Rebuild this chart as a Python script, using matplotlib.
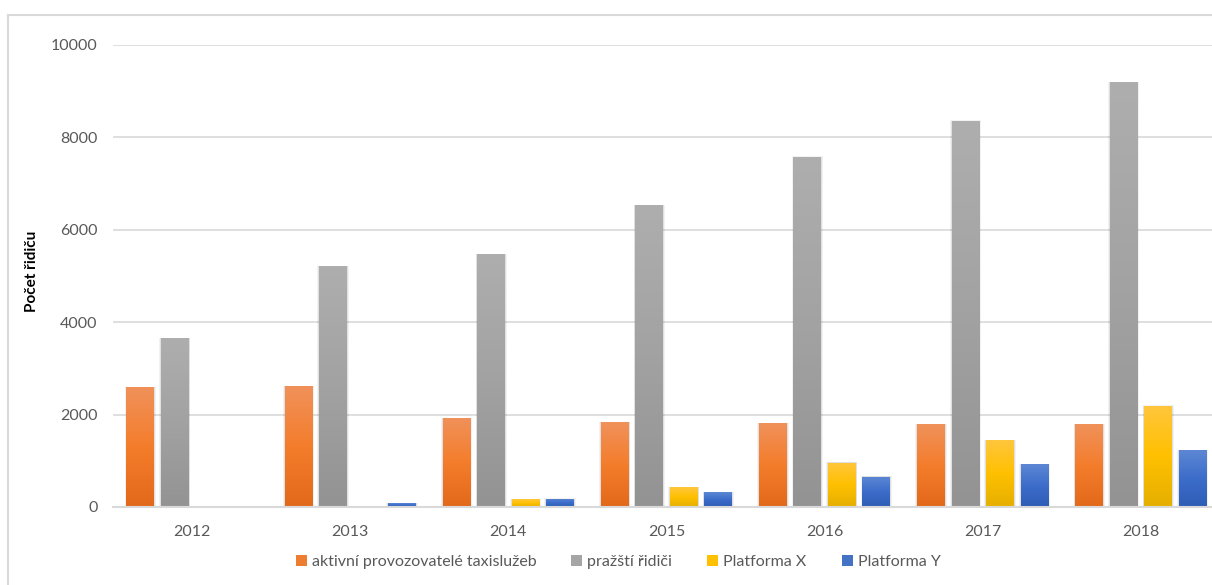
import numpy as np
import matplotlib
matplotlib.use("Agg")
import matplotlib.pyplot as plt
from matplotlib.patches import Rectangle, Patch
from matplotlib.colors import to_rgb
from matplotlib.lines import Line2D

years = ["2012", "2013", "2014", "2015", "2016", "2017", "2018"]
aktivni = [2600, 2620, 1930, 1830, 1820, 1790, 1790]
prazsti = [3660, 5220, 5480, 6540, 7580, 8360, 9200]
platforma_x = [0, 0, 170, 430, 960, 1450, 2190]
platforma_y = [0, 80, 180, 320, 660, 920, 1230]

series_names = ["aktivní provozovatelé taxislužeb", "pražští řidiči", "Platforma X", "Platforma Y"]
series_values = [aktivni, prazsti, platforma_x, platforma_y]
legend_colors = ["#ED7D31", "#A5A5A5", "#FFC000", "#4472C4"]
gradients = [
    ["#F0915A", "#F47D2C", "#E2691A"],
    ["#AEAEAE", "#A2A2A2", "#939393"],
    ["#FFC63D", "#FFC000", "#E5AF00"],
    ["#5D87D4", "#3C6DCA", "#2E5DB5"],
]

plt.rcParams["font.family"] = ["Lato", "DejaVu Sans"]

fig = plt.figure(figsize=(12.12, 5.85), dpi=100)
fig.patch.set_facecolor("white")
ax = fig.add_axes([113 / 1212, 1 - 507 / 585, 1107 / 1212, (507 - 45) / 585])

def gradient_image(stops, n=64):
    cols = np.array([to_rgb(c) for c in stops])
    t = np.linspace(0, 1, n)
    pos = np.linspace(0, 1, len(stops))
    arr = np.stack([np.interp(t, pos, cols[:, k]) for k in range(3)], axis=-1)
    return arr[:, None, :]

slot = 0.218
width = 0.177
x = np.arange(len(years))
for i, (vals, stops) in enumerate(zip(series_values, gradients)):
    img = gradient_image(stops)
    for xi, v in zip(x, vals):
        if v <= 0:
            continue
        x0 = xi + (i - 1.5) * slot - width / 2
        # soft shadow around the bar
        for k, a in [(0.010, 0.05), (0.005, 0.07)]:
            ax.add_patch(Rectangle((x0 - k, 0), width + 2 * k, v + k * 700,
                                   facecolor="black", alpha=a, edgecolor="none", zorder=2))
        rect = Rectangle((x0, 0), width, v, facecolor="none", edgecolor="none", zorder=3)
        ax.add_patch(rect)
        im = ax.imshow(img, extent=[x0, x0 + width, 0, v], aspect="auto",
                       origin="upper", zorder=3, interpolation="bilinear")
        im.set_clip_path(rect)

ax.set_xlim(-0.5, len(years) - 0.5)
ax.set_ylim(0, 10000)
ax.set_yticks(np.arange(0, 10001, 2000))
ax.set_xticks(x)
ax.set_xticklabels(years)
ax.yaxis.grid(True, color="#D9D9D9", linewidth=1.2, zorder=0)
ax.set_axisbelow(True)
for s in ["top", "right", "left"]:
    ax.spines[s].set_visible(False)
ax.spines["bottom"].set_color("#D9D9D9")
ax.spines["bottom"].set_linewidth(1.5)
ax.spines["bottom"].set_zorder(4)
ax.tick_params(axis="both", length=0, labelsize=11.5, colors="#595959")
ax.tick_params(axis="y", pad=11)
ax.tick_params(axis="x", pad=13)

fig.text(32 / 1212, 1 - 271 / 585, "Počet řidiču", rotation=90, ha="center", va="center",
         fontsize=11, fontweight="bold", color="black")

# chart frame
fig.add_artist(Line2D([8 / 1212, 8 / 1212], [0, 1 - 15 / 585], color="#D9D9D9",
                      linewidth=1.5, transform=fig.transFigure))
fig.add_artist(Line2D([8 / 1212, 1], [1 - 15 / 585, 1 - 15 / 585], color="#D9D9D9",
                      linewidth=1.5, transform=fig.transFigure))

handles = [Patch(facecolor=c, edgecolor="none") for c in legend_colors]
fig.legend(handles, series_names, loc="center", bbox_to_anchor=(618 / 1212, 1 - 562 / 585),
           ncol=4, frameon=False, fontsize=11.5, labelcolor="#595959",
           handlelength=0.7, handleheight=0.7, handletextpad=0.3, columnspacing=2.2)

fig.savefig("out.png", dpi=100, facecolor="white")
